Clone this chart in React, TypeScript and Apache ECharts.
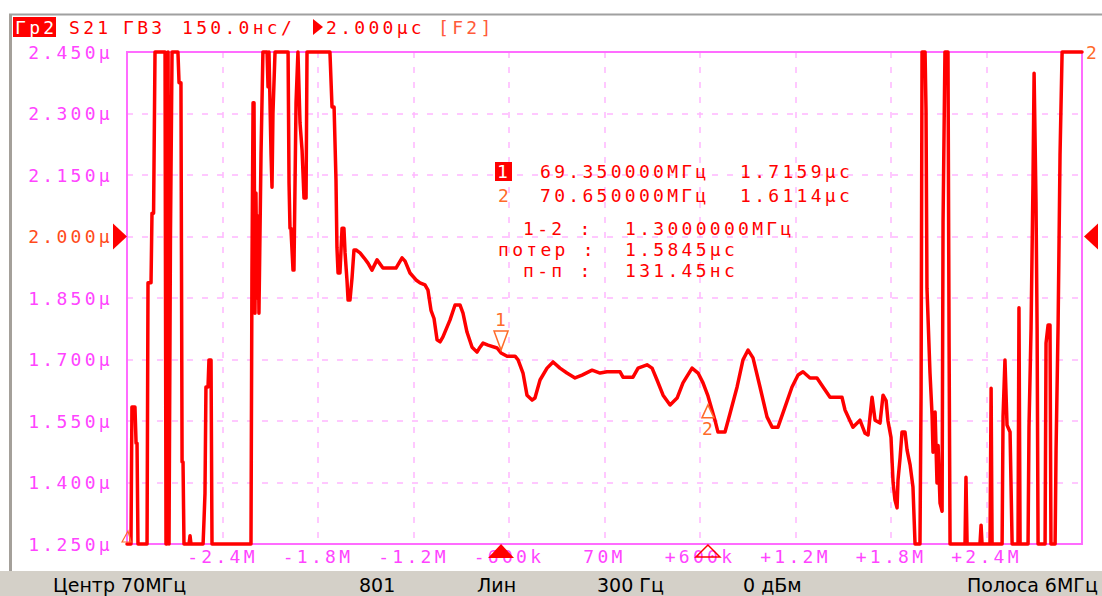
import React, { useEffect, useRef } from 'react';
import * as echarts from 'echarts';

// ---- axis definitions (frequency offset from centre in kHz, group delay in µs) ----
const xMinKHz = -3000;
const xMaxKHz = 3000;
const xStepKHz = 600;
const xTickValues = [-2400, -1800, -1200, -600, 0, 600, 1200, 1800, 2400];
const xTickLabels = ['-2.4M', '-1.8M', '-1.2M', '-600k', '70M', '+600k', '+1.2M', '+1.8M', '+2.4M'];

const yMinUs = 1.25;
const yMaxUs = 2.45;
const yStepUs = 0.15;
const yTickValues = [1.25, 1.4, 1.55, 1.7, 1.85, 2.0, 2.15, 2.3, 2.45];
const yTickLabels = ['1.250μ', '1.400μ', '1.550μ', '1.700μ', '1.850μ', '2.000μ', '2.150μ', '2.300μ', '2.450μ'];
const refLevelUs = 2.0;

// ---- trace (values outside the screen are pinned to the edge) ----
const traceFreqKHz = [
  -3000, -2975, -2969, -2950, -2943, -2937, -2931, -2874, -2868, -2849,
  -2843, -2833, -2824, -2761, -2755, -2749, -2742, -2736, -2727, -2717,
  -2680, -2673, -2661, -2654, -2648, -2642, -2610, -2604, -2598, -2522,
  -2516, -2510, -2504, -2491, -2485, -2472, -2466, -2221, -2215, -2208,
  -2202, -2196, -2190, -2183, -2177, -2171, -2158, -2146, -2120, -2114,
  -2108, -2095, -2089, -2083, -2070, -1988, -1982, -1976, -1970, -1957,
  -1951, -1938, -1926, -1913, -1900, -1888, -1875, -1869, -1725, -1712,
  -1699, -1687, -1681, -1674, -1662, -1649, -1637, -1630, -1618, -1611,
  -1599, -1586, -1574, -1561, -1536, -1511, -1486, -1461, -1429, -1392,
  -1348, -1310, -1272, -1253, -1222, -1184, -1159, -1128, -1109, -1090,
  -1071, -1052, -1033, -1015, -971, -939, -908, -889, -864, -832,
  -801, -782, -763, -732, -675, -650, -612, -562, -543, -512,
  -487, -455, -437, -405, -361, -323, -280, -236, -185, -141,
  -78, -28, 16, 98, 116, 179, 211, 267, 299, 330,
  368, 412, 456, 493, 550, 588, 619, 650, 694, 713,
  757, 789, 833, 870, 902, 933, 977, 1021, 1053, 1090,
  1134, 1178, 1216, 1247, 1291, 1335, 1373, 1417, 1492, 1511,
  1561, 1605, 1637, 1656, 1681, 1700, 1731, 1750, 1769, 1781,
  1800, 1813, 1825, 1838, 1844, 1857, 1869, 1888, 1901, 1920,
  1938, 1951, 1982, 1989, 1995, 2014, 2020, 2026, 2045, 2058,
  2064, 2077, 2089, 2096, 2108, 2121, 2127, 2139, 2158, 2165,
  2171, 2265, 2271, 2278, 2359, 2366, 2372, 2422, 2429, 2435,
  2498, 2504, 2516, 2529, 2548, 2561, 2598, 2604, 2611, 2661,
  2667, 2680, 2692, 2699, 2711, 2718, 2724, 2768, 2774, 2787,
  2799, 2805, 2831, 2837, 2850, 2862, 2875, 3000,
];
const traceDelayUs = [
  1.25, 1.25, 1.584, 1.584, 1.496, 1.496, 1.25, 1.25, 1.887, 1.887,
  2.057, 2.057, 2.45, 2.45, 1.25, 1.25, 2.45, 1.25, 2.0, 2.45,
  2.45, 2.375, 2.375, 1.45, 1.45, 1.25, 1.25, 1.27, 1.25, 1.25,
  1.31, 1.374, 1.633, 1.633, 1.699, 1.699, 1.25, 1.25, 1.91, 2.326,
  2.326, 1.813, 2.106, 1.85, 2.05, 1.813, 2.2, 2.45, 2.45, 2.365,
  2.45, 2.2, 2.12, 2.3, 2.45, 2.45, 2.13, 2.02, 2.02, 1.918,
  1.918, 2.326, 2.45, 2.277, 2.21, 2.094, 2.094, 2.45, 2.45, 2.316,
  2.316, 2.138, 1.974, 1.911, 1.911, 2.02, 2.02, 1.96, 1.894, 1.845,
  1.845, 1.9, 1.967, 1.967, 1.96, 1.948, 1.935, 1.918, 1.943, 1.923,
  1.923, 1.923, 1.948, 1.94, 1.911, 1.894, 1.887, 1.882, 1.869, 1.82,
  1.8, 1.748, 1.743, 1.755, 1.796, 1.833, 1.833, 1.813, 1.767, 1.73,
  1.718, 1.73, 1.74, 1.735, 1.728, 1.716, 1.708, 1.708, 1.699, 1.667,
  1.613, 1.601, 1.606, 1.65, 1.679, 1.694, 1.679, 1.667, 1.655, 1.662,
  1.674, 1.667, 1.67, 1.67, 1.657, 1.657, 1.679, 1.687, 1.679, 1.65,
  1.613, 1.589, 1.606, 1.643, 1.679, 1.667, 1.643, 1.611, 1.552, 1.523,
  1.523, 1.569, 1.633, 1.699, 1.723, 1.704, 1.633, 1.56, 1.535, 1.535,
  1.584, 1.633, 1.662, 1.67, 1.655, 1.655, 1.633, 1.608, 1.608, 1.577,
  1.535, 1.552, 1.52, 1.516, 1.608, 1.552, 1.545, 1.613, 1.6, 1.55,
  1.51, 1.4, 1.357, 1.338, 1.406, 1.46, 1.523, 1.523, 1.479, 1.443,
  1.389, 1.25, 1.25, 1.618, 2.45, 2.45, 2.308, 1.874, 1.667, 1.565,
  1.474, 1.572, 1.399, 1.49, 1.35, 1.33, 2.035, 2.45, 2.45, 1.73,
  1.25, 1.25, 1.413, 1.25, 1.25, 1.296, 1.25, 1.25, 1.63, 1.25,
  1.25, 1.56, 1.699, 1.54, 1.523, 1.25, 1.25, 1.826, 1.25, 1.25,
  1.535, 1.777, 2.13, 2.398, 2.084, 1.772, 1.25, 1.25, 1.74, 1.784,
  1.784, 1.25, 1.25, 1.479, 1.789, 2.199, 2.45, 2.45,
];

// ---- markers ----
const markerIds = ['1', '2'];
const markerOffsetKHz = [-650, 650];
const markerFreqMHz = [69.35, 70.65];
const markerDelayUs = [1.7159, 1.6114];
const statLabels = ['1-2 :', 'потер :', 'п-п :'];
const statValues = ['1.3000000МГц', '1.5845μс', '131.45нс'];

// ---- header / status bar texts ----
const headerTag = 'Гр2';
const headerParts = ['S21', 'ГВЗ', '150.0нс/', '2.000μс', '[F2]'];
const statusItems = ['Центр 70МГц', '801', 'Лин', '300 Гц', '0 дБм', 'Полоса 6МГц'];
const traceTag = '2';

// ---- layout & style ----
const W = 1102;
const H = 596;
const MONO = 'DejaVu Sans Mono';
const SANS = 'DejaVu Sans';
const RED = '#ff0000';
const ORANGE = '#ff6a2a';
const PINK = '#ff44ff';
const REF_RED = '#ff4a1a';
const GRIDLINE = '#ffb6ff';
const BORDER = '#ff6cff';

const headerX = [69, 123, 182, 326, 438];
const statusX = [53, 359, 477, 597, 743, 967];

const css =
  '#root svg text[style*="Mono"],#root svg text[font-family*="Mono"]{letter-spacing:3.3px}';

function tickLabel(v: number, values: number[], labels: string[]): string {
  for (let i = 0; i < values.length; i++) {
    if (Math.abs(values[i] - v) < 1e-6) return labels[i];
  }
  return '';
}

function monoText(text: string, x: number, y: number, fill: string, align = 'left'): any {
  return {
    type: 'text',
    x,
    y,
    z: 20,
    silent: true,
    style: {
      text,
      fill,
      fontSize: 18,
      fontFamily: MONO,
      align,
      verticalAlign: 'middle',
      textAlign: align,
      textVerticalAlign: 'middle',
    },
  };
}

export default function App() {
  const ref = useRef<HTMLDivElement>(null);

  useEffect(() => {
    if (!ref.current) return;
    const chart = echarts.init(ref.current, null, { renderer: 'svg', width: W, height: H });

    chart.setOption({
      animation: false,
      backgroundColor: '#ffffff',
      grid: {
        left: 127,
        right: 20,
        top: 52,
        bottom: 52,
        containLabel: false,
        outerBoundsMode: 'none',
        show: false,
      },
      xAxis: {
        type: 'value',
        min: xMinKHz,
        max: xMaxKHz,
        interval: xStepKHz,
        axisLine: { show: false },
        axisTick: { show: false },
        axisLabel: {
          margin: 3,
          fontFamily: MONO,
          fontSize: 18,
          color: PINK,
          showMinLabel: true,
          showMaxLabel: true,
          formatter: (v: number) => tickLabel(Number(v), xTickValues, xTickLabels),
        },
        splitLine: { show: true, lineStyle: { color: GRIDLINE, width: 1.5, type: [6, 9] } },
      },
      yAxis: {
        type: 'value',
        min: yMinUs,
        max: yMaxUs,
        interval: yStepUs,
        axisLine: { show: false },
        axisTick: { show: false },
        axisLabel: {
          margin: 14,
          fontFamily: MONO,
          fontSize: 18,
          showMinLabel: true,
          showMaxLabel: true,
          color: (v: any) => (Math.abs(Number(v) - refLevelUs) < 1e-6 ? REF_RED : PINK),
          formatter: (v: number) => tickLabel(Number(v), yTickValues, yTickLabels),
        },
        splitLine: { show: true, lineStyle: { color: GRIDLINE, width: 1.5, type: [6, 9] } },
      },
      series: [
        {
          type: 'line',
          name: 'S21',
          data: traceFreqKHz.map((f, i) => [f, traceDelayUs[i]]),
          showSymbol: false,
          symbol: 'none',
          clip: false,
          silent: true,
          z: 3,
          lineStyle: { color: RED, width: 3.5, join: 'round', cap: 'round' },
        },
      ],
    });

    const px = (f: number, v: number) =>
      chart.convertToPixel({ gridIndex: 0 }, [f, v]) as unknown as number[];

    const [gx0, gyTop] = px(xMinKHz, yMaxUs);
    const [gx1, gyBot] = px(xMaxKHz, yMinUs);
    const yRef = px(xMinKHz, refLevelUs)[1];

    const els: any[] = [];

    // window frame
    els.push({ type: 'line', z: 30, silent: true, shape: { x1: 9, y1: 14.5, x2: W, y2: 14.5 }, style: { stroke: '#a0a0a0', lineWidth: 2 } });
    els.push({ type: 'line', z: 30, silent: true, shape: { x1: 10.5, y1: 14, x2: 10.5, y2: 571 }, style: { stroke: '#a4a09a', lineWidth: 3 } });

    // header
    els.push({ type: 'rect', z: 19, silent: true, shape: { x: 13, y: 17, width: 43, height: 20 }, style: { fill: RED } });
    els.push(monoText(headerTag, 15, 27, '#ffffff'));
    headerParts.forEach((t, i) => {
      els.push(monoText(t, headerX[i], 27, i === headerParts.length - 1 ? '#ff5a3a' : RED));
    });
    els.push({ type: 'polygon', z: 20, silent: true, shape: { points: [[313, 19], [323, 27], [313, 35]] }, style: { fill: RED } });

    // plot border
    els.push({
      type: 'rect',
      z: 1,
      silent: true,
      shape: { x: gx0, y: gyTop, width: gx1 - gx0, height: gyBot - gyTop },
      style: { fill: 'none', stroke: BORDER, lineWidth: 2 },
    });

    // reference level arrows
    els.push({ type: 'polygon', z: 20, silent: true, shape: { points: [[gx0 - 14, yRef - 13], [gx0, yRef], [gx0 - 14, yRef + 13]] }, style: { fill: RED } });
    els.push({ type: 'polygon', z: 20, silent: true, shape: { points: [[gx1 + 2, yRef], [gx1 + 16, yRef - 13], [gx1 + 16, yRef + 13]] }, style: { fill: RED } });

    // markers on the trace and on the frequency axis
    markerIds.forEach((id, i) => {
      const [mx, my] = px(markerOffsetKHz[i], markerDelayUs[i]);
      if (i === 0) {
        els.push({ type: 'polygon', z: 21, silent: true, shape: { points: [[mx - 7, my - 22], [mx + 7, my - 22], [mx, my - 3]] }, style: { fill: '#ffffff', stroke: ORANGE, lineWidth: 1.5 } });
        els.push(monoText(id, mx + 1, my - 33, ORANGE, 'center'));
        els.push({ type: 'polygon', z: 21, silent: true, shape: { points: [[mx, gyBot], [mx - 13, gyBot + 14], [mx + 13, gyBot + 14]] }, style: { fill: RED } });
      } else {
        els.push({ type: 'polygon', z: 21, silent: true, shape: { points: [[mx - 6, my + 22], [mx + 6, my + 22], [mx, my + 9]] }, style: { fill: '#ffffff', stroke: ORANGE, lineWidth: 1.5 } });
        els.push(monoText(id, mx + 1, my + 33, ORANGE, 'center'));
        els.push({ type: 'polygon', z: 21, silent: true, shape: { points: [[mx, gyBot + 1], [mx - 12, gyBot + 13], [mx + 12, gyBot + 13]] }, style: { fill: 'none', stroke: RED, lineWidth: 1.5 } });
      }
    });

    // marker readout table
    const rowY = [171, 195];
    els.push({ type: 'rect', z: 19, silent: true, shape: { x: 495, y: 162, width: 17, height: 19 }, style: { fill: RED } });
    els.push(monoText(markerIds[0], 504, rowY[0], '#ffffff', 'center'));
    els.push(monoText(markerIds[1], 498, rowY[1], ORANGE));
    markerIds.forEach((_, i) => {
      els.push(monoText(markerFreqMHz[i].toFixed(6) + 'МГц', 540, rowY[i], RED));
      els.push(monoText(markerDelayUs[i].toFixed(4) + 'μс', 740, rowY[i], RED));
    });
    const statY = [228, 249, 270];
    const statX = [523, 498, 523];
    statLabels.forEach((t, i) => {
      els.push(monoText(t, statX[i], statY[i], RED));
      els.push(monoText(statValues[i], 625, statY[i], RED));
    });

    // trace tag at right edge and off-screen indicator at bottom left
    els.push(monoText(traceTag, gx1 + 4, gyTop, ORANGE));
    els.push({ type: 'polygon', z: 21, silent: true, shape: { points: [[gx0 - 5, gyBot - 2], [gx0 + 1, gyBot - 13], [gx0 + 4, gyBot - 2]] }, style: { fill: 'none', stroke: ORANGE, lineWidth: 1.2 } });

    // status bar
    els.push({ type: 'rect', z: 30, silent: true, shape: { x: 0, y: 571, width: W, height: H - 571 }, style: { fill: '#d4d0c8' } });
    statusItems.forEach((t, i) => {
      els.push({
        type: 'text',
        x: statusX[i],
        y: 585,
        z: 31,
        silent: true,
        style: {
          text: t,
          fill: '#000000',
          fontSize: 19,
          fontFamily: SANS,
          align: 'left',
          verticalAlign: 'middle',
          textAlign: 'left',
          textVerticalAlign: 'middle',
        },
      });
    });

    chart.setOption({ graphic: { elements: els } });

    return () => chart.dispose();
  }, []);

  return (
    <>
      <style>{css}</style>
      <div
        ref={ref}
        style={{ position: 'fixed', left: 0, top: 0, width: W, height: H, background: '#ffffff' }}
      />
    </>
  );
}
